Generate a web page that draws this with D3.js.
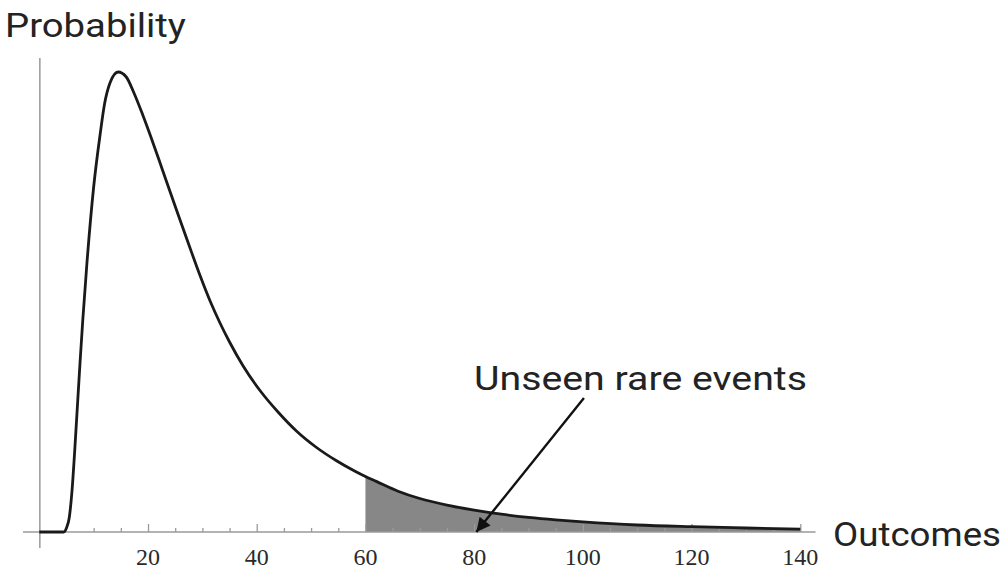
<!DOCTYPE html>
<html>
<head>
<meta charset="utf-8">
<script src="https://cdn.jsdelivr.net/npm/d3@7"></script>
<style>
  html, body { margin: 0; padding: 0; background: #ffffff; }
  svg { display: block; }
</style>
</head>
<body>
<svg id="chart" width="1004" height="576"></svg>
<script>
// ---- data ----
const outcomes = [0, 4.5, 5, 5.5, 6, 6.5, 7, 7.5, 8, 8.75, 10, 11.2, 12, 13, 14.5, 16, 17.3, 19, 20.4, 22, 23.4, 25.5, 27.5, 29.5, 31.5, 33.2, 35, 37.5, 40.6, 44, 47.3, 51, 54.6, 58, 60, 62, 66, 70, 75, 80, 85, 90, 95, 100, 110, 120, 130, 140];
const probability = [0, 0, 0.0004, 0.0014, 0.0040, 0.0080, 0.0125, 0.0170, 0.0212, 0.0268, 0.0345, 0.0398, 0.0428, 0.0449, 0.0460, 0.04550, 0.04405, 0.04175, 0.03970, 0.03725, 0.03505, 0.03180, 0.02875, 0.02575, 0.02300, 0.02095, 0.01900, 0.01660, 0.01415, 0.01195, 0.01010, 0.00845, 0.00715, 0.00610, 0.00555, 0.00506, 0.00408, 0.00335, 0.00269, 0.00219, 0.00178, 0.00146, 0.00121, 0.00101, 0.00070, 0.00053, 0.00040, 0.00028];
const majorTicks = [20, 40, 60, 80, 100, 120, 140];
const minorTicks = [10, 15, 25, 30, 35, 45, 50, 55, 65, 70, 75, 85, 90, 95, 105, 110, 115, 125, 130, 135];
const shadeFrom = 60;
const arrowFrom = [100.2, 0.0134];
const arrowTo = [80.4, 0];
const yLabel = "Probability";
const xLabel = "Outcomes";
const annotation = "Unseen rare events";

const data = outcomes.map((x, i) => ({ x, y: probability[i] }));

const svg = d3.select("#chart");
const x = d3.scaleLinear().domain([0, 140]).range([39.3, 800.3]);
const y = d3.scaleLinear().domain([0, 0.05]).range([532, 32]);

const axisColor = "#9a9a9a";
const textColor = "#232323";

// shaded tail
const tail = data.filter(d => d.x >= shadeFrom);
svg.append("path")
  .datum(tail)
  .attr("fill", "#878787")
  .attr("d", d3.area().x(d => x(d.x)).y0(y(0)).y1(d => y(d.y)).curve(d3.curveMonotoneX));

// x axis line
svg.append("line")
  .attr("x1", x(-3)).attr("x2", x(142.8))
  .attr("y1", y(0)).attr("y2", y(0))
  .attr("stroke", axisColor).attr("stroke-width", 1.5);

// y axis line
svg.append("line")
  .attr("x1", x(0.1)).attr("x2", x(0.1))
  .attr("y1", y(-0.0016)).attr("y2", y(0.0474))
  .attr("stroke", axisColor).attr("stroke-width", 1.5);

// ticks (drawn upward) via d3 axis
const majorAxis = d3.axisTop(x).tickValues(majorTicks).tickSize(8).tickFormat("");
const gMaj = svg.append("g").attr("transform", `translate(0,${y(0)})`).call(majorAxis);
gMaj.select(".domain").remove();
gMaj.selectAll(".tick line").attr("stroke", axisColor).attr("stroke-width", 1.3);

const minorAxis = d3.axisTop(x).tickValues(minorTicks).tickSize(4).tickFormat("");
const gMin = svg.append("g").attr("transform", `translate(0,${y(0)})`).call(minorAxis);
gMin.select(".domain").remove();
gMin.selectAll(".tick line").attr("stroke", axisColor).attr("stroke-width", 1.3);

// tick labels
svg.append("g").selectAll("text")
  .data(majorTicks)
  .join("text")
  .attr("x", d => x(d))
  .attr("y", 565)
  .attr("text-anchor", "middle")
  .attr("font-family", "'Liberation Serif', 'DejaVu Serif', serif")
  .attr("font-size", 24)
  .attr("fill", "#2a2a2a")
  .text(d => d);

// curve
svg.append("path")
  .datum(data)
  .attr("fill", "none")
  .attr("stroke", "#1a1a1a")
  .attr("stroke-width", 2.8)
  .attr("stroke-linejoin", "round")
  .attr("d", d3.line().x(d => x(d.x)).y(d => y(d.y)).curve(d3.curveMonotoneX));

// arrow
const defs = svg.append("defs");
defs.append("marker")
  .attr("id", "arrowhead")
  .attr("viewBox", "0 0 10 10")
  .attr("refX", 10).attr("refY", 5)
  .attr("markerUnits", "userSpaceOnUse")
  .attr("markerWidth", 26).attr("markerHeight", 14)
  .attr("orient", "auto")
  .append("path")
  .attr("d", "M0,0 L10,5 L0,10 Z")
  .attr("fill", "#111");

svg.append("line")
  .attr("x1", x(arrowFrom[0])).attr("y1", y(arrowFrom[1]))
  .attr("x2", x(arrowTo[0])).attr("y2", y(arrowTo[1]))
  .attr("stroke", "#111").attr("stroke-width", 2.4)
  .attr("marker-end", "url(#arrowhead)");

// labels
const labelFont = "Roboto, 'Open Sans', 'DejaVu Sans', sans-serif";
svg.append("text")
  .attr("x", 5).attr("y", 37)
  .attr("font-family", labelFont).attr("font-size", 34)
  .attr("fill", textColor)
  .attr("textLength", 181).attr("lengthAdjust", "spacingAndGlyphs")
  .text(yLabel);

svg.append("text")
  .attr("x", 833).attr("y", 546)
  .attr("font-family", labelFont).attr("font-size", 33)
  .attr("fill", textColor)
  .attr("textLength", 168).attr("lengthAdjust", "spacingAndGlyphs")
  .text(xLabel);

svg.append("text")
  .attr("x", 474).attr("y", 390)
  .attr("font-family", labelFont).attr("font-size", 34)
  .attr("fill", textColor)
  .attr("textLength", 333).attr("lengthAdjust", "spacingAndGlyphs")
  .text(annotation);
</script>
</body>
</html>
